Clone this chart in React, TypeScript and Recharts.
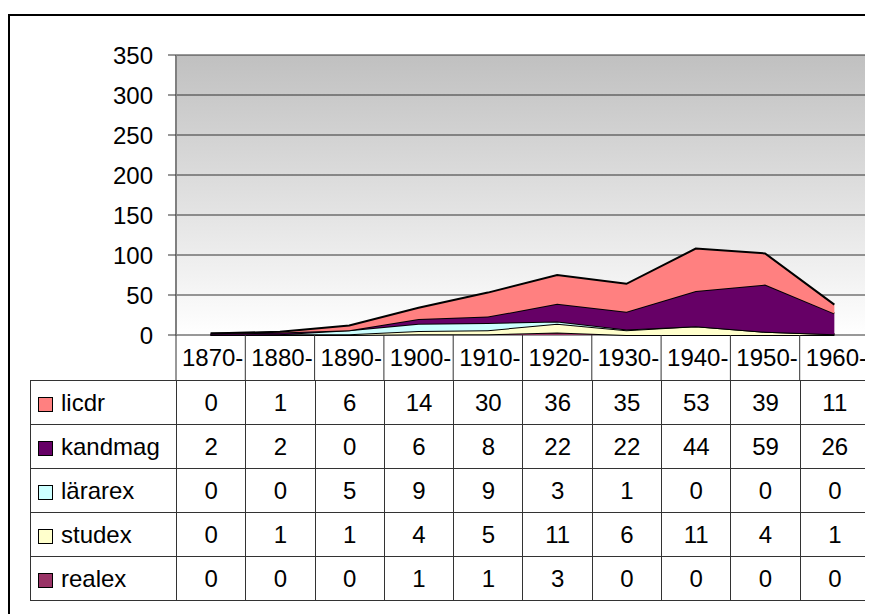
import { Area, AreaChart, CartesianGrid, XAxis, YAxis } from "recharts";

const decades = ["1870-", "1880-", "1890-", "1900-", "1910-", "1920-", "1930-", "1940-", "1950-", "1960-"];
const licdr = [0, 1, 6, 14, 30, 36, 35, 53, 39, 11];
const kandmag = [2, 2, 0, 6, 8, 22, 22, 44, 59, 26];
const lararex = [0, 0, 5, 9, 9, 3, 1, 0, 0, 0];
const studex = [0, 1, 1, 4, 5, 11, 6, 11, 4, 1];
const realex = [0, 0, 0, 1, 1, 3, 0, 0, 0, 0];
const yTicks = [0, 50, 100, 150, 200, 250, 300, 350];

// table order, top to bottom (stack order is the reverse)
const series = [
  { key: "licdr", name: "licdr", values: licdr, color: "#FF8080" },
  { key: "kandmag", name: "kandmag", values: kandmag, color: "#660066" },
  { key: "lararex", name: "lärarex", values: lararex, color: "#CCFFFF" },
  { key: "studex", name: "studex", values: studex, color: "#FFFFCC" },
  { key: "realex", name: "realex", values: realex, color: "#993366" },
];

const data = decades.map((d, i) => {
  const row: Record<string, string | number> = { decade: d };
  series.forEach((s) => (row[s.key] = s.values[i]));
  return row;
});

const W = 865;
const PLOT_LEFT = 168;
const PLOT_RIGHT = 861;
const PLOT_TOP = 47;
const PLOT_BOTTOM = 327;
const AXIS_ROW = 45;
const COL = (PLOT_RIGHT - PLOT_LEFT) / decades.length;
const FONT = "'Liberation Sans', Arial, sans-serif";
const LINE = "#333";

function DecadeTick(props: any) {
  const { x, payload, index } = props;
  return (
    <g>
      {index === 0 && (
        <line x1={x - COL / 2} x2={x - COL / 2} y1={PLOT_BOTTOM} y2={PLOT_BOTTOM + AXIS_ROW} stroke={LINE} />
      )}
      <line x1={x + COL / 2} x2={x + COL / 2} y1={PLOT_BOTTOM} y2={PLOT_BOTTOM + AXIS_ROW} stroke={LINE} />
      <text x={x + 2} y={PLOT_BOTTOM + 22} textAnchor="middle" dominantBaseline="central" fontSize={24} fill="#000" fontFamily={FONT}>
        {payload.value}
      </text>
    </g>
  );
}

export default function App() {
  const stacked = [...series].reverse();
  return (
    <div style={{ position: "relative", width: W, height: 606, overflow: "hidden", fontFamily: FONT }}>
      <div
        style={{
          position: "absolute",
          top: 6,
          left: 0,
          width: W + 20,
          height: 700,
          borderTop: "2px solid #000",
          borderLeft: "2px solid #000",
          boxSizing: "border-box",
        }}
      />
      <AreaChart
        width={W}
        height={PLOT_BOTTOM + AXIS_ROW}
        data={data}
        margin={{ top: PLOT_TOP, right: W - PLOT_RIGHT, left: 0, bottom: 0 }}
        style={{ position: "absolute", top: 0, left: 0 }}
      >
        <defs>
          <linearGradient id="plotBg" x1="0" y1="0" x2="0" y2="1">
            <stop offset="0%" stopColor="#C0C0C0" />
            <stop offset="100%" stopColor="#FFFFFF" />
          </linearGradient>
        </defs>
        <CartesianGrid vertical={false} stroke={LINE} fill="url(#plotBg)" fillOpacity={1} />
        <XAxis
          dataKey="decade"
          padding={{ left: COL / 2, right: COL / 2 }}
          axisLine={false}
          tickLine={false}
          height={AXIS_ROW}
          tick={<DecadeTick />}
          interval={0}
        />
        <XAxis xAxisId="top" orientation="top" height={0} dataKey="decade" tick={false} tickLine={false} axisLine={{ stroke: "#808080", strokeWidth: 2 }} />
        <YAxis
          width={PLOT_LEFT}
          domain={[0, 350]}
          ticks={yTicks}
          interval={0}
          tickSize={8}
          tickMargin={15}
          axisLine={{ stroke: "#808080", strokeWidth: 2 }}
          tickLine={{ stroke: LINE }}
          tick={{ fontSize: 24, fill: "#000", fontFamily: FONT }}
        />
        <YAxis yAxisId="right" orientation="right" width={0} tick={false} tickLine={false} axisLine={{ stroke: "#808080", strokeWidth: 2 }} />
        {stacked.map((s) => (
          <Area
            key={s.key}
            type="linear"
            dataKey={s.key}
            name={s.name}
            stackId="1"
            stroke="#000"
            strokeWidth={2}
            fill={s.color}
            fillOpacity={1}
            isAnimationActive={false}
          />
        ))}
      </AreaChart>
      <table
        style={{
          position: "absolute",
          top: PLOT_BOTTOM + AXIS_ROW,
          left: 22,
          borderCollapse: "collapse",
          tableLayout: "fixed",
          width: 146 + (PLOT_RIGHT - PLOT_LEFT),
          fontSize: 24,
          fontFamily: FONT,
        }}
      >
        <colgroup>
          <col style={{ width: 146 }} />
          {decades.map((d) => (
            <col key={d} style={{ width: COL }} />
          ))}
        </colgroup>
        <tbody>
          {series.map((s) => (
            <tr key={s.key} style={{ height: 44 }}>
              <td style={{ border: `1px solid ${LINE}`, padding: "0 0 0 7px", whiteSpace: "nowrap" }}>
                <span
                  style={{
                    display: "inline-block",
                    width: 13,
                    height: 13,
                    background: s.color,
                    border: "1px solid #000",
                    marginRight: 8,
                    verticalAlign: "-1px",
                  }}
                />
                {s.name}
              </td>
              {s.values.map((v, i) => (
                <td key={i} style={{ border: `1px solid ${LINE}`, textAlign: "center", padding: 0 }}>
                  {v}
                </td>
              ))}
            </tr>
          ))}
        </tbody>
      </table>
    </div>
  );
}
